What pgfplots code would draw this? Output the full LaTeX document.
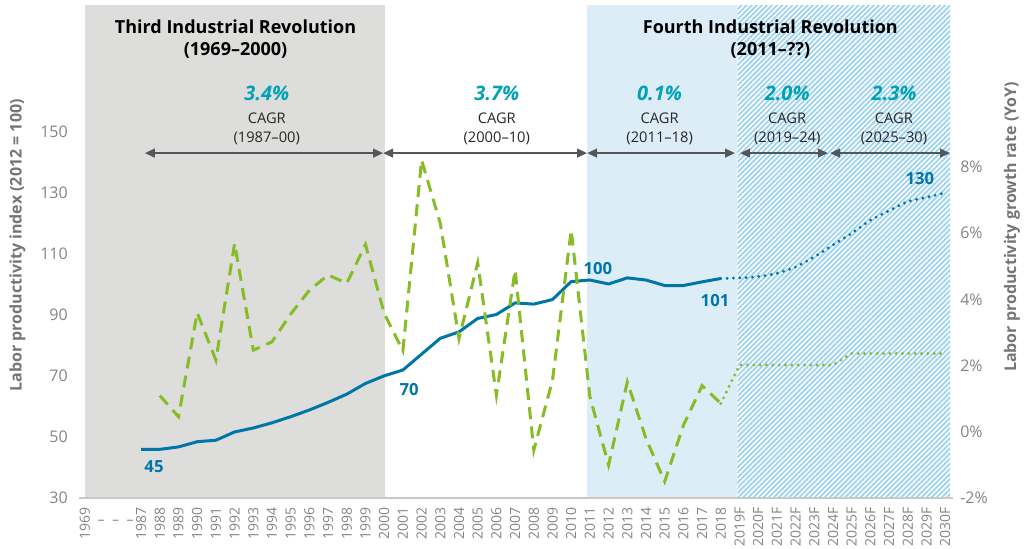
\documentclass[border=0pt]{standalone}
\usepackage{fontspec}
\setmainfont{Open Sans}
\usepackage{pgfplots}
\usepackage{pgfplotstable}
\pgfplotsset{compat=1.18}
\usetikzlibrary{patterns.meta,arrows.meta}

\definecolor{dblue}{RGB}{0,118,168}
\definecolor{dgreen}{RGB}{134,188,37}
\definecolor{cagr}{RGB}{0,163,182}
\definecolor{regiongray}{RGB}{221,221,219}
\definecolor{regionblue}{RGB}{221,237,248}
\definecolor{hatchblue}{RGB}{160,211,240}
\definecolor{arrowgray}{RGB}{83,86,90}
\definecolor{tickgray}{RGB}{132,132,132}
\definecolor{labelgray}{RGB}{117,117,117}
\definecolor{linegray}{RGB}{200,200,200}

% x index: 1969 -> 0, year Y (1987..2030) -> Y - 1984
\pgfplotstableread{
x y
3 46.0
4 46.0
5 46.8
6 48.5
7 49.0
8 51.7
9 53.0
10 54.7
11 56.7
12 58.9
13 61.4
14 64.1
15 67.6
16 70.1
17 72.0
18 77.2
19 82.4
20 84.5
21 88.9
22 90.2
23 94.0
24 93.6
25 95.1
26 101.0
27 101.5
28 100.2
29 102.2
30 101.5
31 99.7
32 99.7
33 100.9
34 102.0
}\idxhist

\pgfplotstableread{
x y
34 102.0
35 102.2
36 102.6
37 103.7
38 105.8
39 109.1
40 113.0
41 116.8
42 121.1
43 124.2
44 127.2
45 128.6
46 130.1
}\idxfc

\pgfplotstableread{
x y
4 1.1
5 0.46
6 3.6
7 2.17
8 5.69
9 2.47
10 2.72
11 3.56
12 4.28
13 4.74
14 4.49
15 5.66
16 3.58
17 2.45
18 8.21
19 6.3
20 2.82
21 5.11
22 1.11
23 4.89
24 -0.55
25 1.56
26 6.1
27 1.06
28 -1.0
29 1.51
30 -0.2
31 -1.5
32 0.2
33 1.4
34 0.86
}\grhist

\pgfplotstableread{
x y
34 0.86
35 2.02
36 2.02
37 2.02
38 2.02
39 2.02
40 2.02
41 2.37
42 2.37
43 2.37
44 2.37
45 2.37
46 2.37
}\grfc

\begin{document}
\begin{tikzpicture}
\begin{axis}[
  name=main,
  scale only axis, width=655.5pt, height=369.75pt,
  xmin=-0.321, xmax=46.42, ymin=30, ymax=191.6,
  axis on top, clip=false,
  axis x line*=bottom, axis y line*=left,
  x axis line style={draw=linegray, line width=1.1pt},
  y axis line style={draw=none},
  major tick length=0pt,
  xtick={0,3,4,...,46},
  xticklabels={1969,1987,1988,1989,1990,1991,1992,1993,1994,1995,1996,1997,1998,1999,2000,2001,2002,2003,2004,2005,2006,2007,2008,2009,2010,2011,2012,2013,2014,2015,2016,2017,2018,2019F,2020F,2021F,2022F,2023F,2024F,2025F,2026F,2027F,2028F,2029F,2030F},
  xticklabel style={rotate=90, anchor=east, font=\fontsize{10.5}{12}\selectfont, text=tickgray, inner xsep=6.75pt, inner ysep=0pt},
  ytick={30,50,70,90,110,130,150},
  yticklabels={30,50,70,90,110,130,150},
  yticklabel style={anchor=east, font=\fontsize{12}{14}\selectfont, text=tickgray, inner xsep=8.25pt, inner ysep=0pt},
]
% regions
\fill[regiongray] (axis cs:0,30) rectangle (axis cs:16.05,191.6);
\fill[regionblue] (axis cs:26.84,30) rectangle (axis cs:34.87,191.6);
\fill[pattern={Lines[angle=45,distance=2.7pt,line width=1.4pt]}, pattern color=hatchblue] (axis cs:34.87,30) rectangle (axis cs:46.26,191.6);
\draw[white, line width=0.8pt, dash pattern=on 1pt off 1pt] (axis cs:34.87,30) -- (axis cs:34.87,191.6);

% arrows
\begin{scope}[arrowgray, line width=1.5pt, {Triangle[length=7.5pt,width=6.5pt]}-{Triangle[length=7.5pt,width=6.5pt]}]
\draw (axis cs:3.2,143.1) -- (axis cs:15.94,143.1);
\draw (axis cs:15.94,143.1) -- (axis cs:26.85,143.1);
\draw (axis cs:26.85,143.1) -- (axis cs:34.76,143.1);
\draw (axis cs:35.03,143.1) -- (axis cs:39.73,143.1);
\draw (axis cs:39.84,143.1) -- (axis cs:46.26,143.1);
\end{scope}

\addplot[dblue, line width=2.25pt, line join=round] table {\idxhist};
\addplot[dblue, line width=2.4pt, line cap=round, dash pattern=on 0pt off 4.75pt, smooth] table {\idxfc};

% headers
\begin{scope}[font=\fontsize{13.5}{16}\selectfont\bfseries, text=black]
\node at (axis cs:8.05,184.5) {Third Industrial Revolution};
\node at (axis cs:8.05,176.7) {(1969–2000)};
\node at (axis cs:36.65,184.4) {Fourth Industrial Revolution};
\node at (axis cs:36.65,176.8) {(2011–??)};
\end{scope}

% CAGR
\begin{scope}[font=\fontsize{15}{17}\selectfont\bfseries\itshape, text=cagr]
\node at (axis cs:9.72,162.6) {3.4\%};
\node at (axis cs:22.02,162.6) {3.7\%};
\node at (axis cs:30.73,162.6) {0.1\%};
\node at (axis cs:37.55,162.6) {2.0\%};
\node at (axis cs:43.26,162.6) {2.3\%};
\end{scope}
\begin{scope}[font=\fontsize{11}{13}\selectfont, text=black!85]
\node at (axis cs:9.72,154.4) {CAGR};
\node at (axis cs:9.72,148.0) {(1987–00)};
\node at (axis cs:22.02,154.4) {CAGR};
\node at (axis cs:22.02,148.0) {(2000–10)};
\node at (axis cs:30.73,154.4) {CAGR};
\node at (axis cs:30.73,148.0) {(2011–18)};
\node at (axis cs:37.55,154.4) {CAGR};
\node at (axis cs:37.55,148.0) {(2019–24)};
\node at (axis cs:43.26,154.4) {CAGR};
\node at (axis cs:43.26,148.0) {(2025–30)};
\end{scope}

% value labels
\begin{scope}[font=\fontsize{12.5}{14}\selectfont\bfseries, text=dblue]
\node at (axis cs:3.69,40.5) {45};
\node at (axis cs:17.33,65.7) {70};
\node at (axis cs:27.43,105.3) {100};
\node at (axis cs:33.69,94.9) {101};
\node at (axis cs:44.65,134.9) {130};
\end{scope}

% dashes between 1969 and 1987
\begin{scope}[font=\fontsize{10.5}{12}\selectfont, text=tickgray]
\node at (axis cs:0.86,22.13) {–};
\node at (axis cs:1.64,22.13) {–};
\node at (axis cs:2.41,22.13) {–};
\end{scope}

% axis labels
\node[rotate=90, anchor=west, inner sep=0pt, font=\fontsize{12}{14}\selectfont\bfseries, text=labelgray] at (axis cs:-3.61,64.85) {Labor productivity index (2012 = 100)};
\node[rotate=90, anchor=west, inner sep=0pt, font=\fontsize{12}{14}\selectfont\bfseries, text=labelgray] at (axis cs:49.57,71.3) {Labor productivity growth rate (YoY)};

\coordinate (BL) at (axis cs:-4.545,13.607);
\coordinate (TR) at (axis cs:50.214,193.28);
\end{axis}

\begin{axis}[
  scale only axis, width=655.5pt, height=369.75pt,
  xmin=-0.321, xmax=46.42, ymin=-2, ymax=12.89,
  clip=false,
  axis x line=none, axis y line*=right,
  y axis line style={draw=none},
  xtick=\empty,
  major tick length=0pt,
  ytick={-2,0,2,4,6,8},
  yticklabels={-2\%,0\%,2\%,4\%,6\%,8\%},
  yticklabel style={anchor=west, font=\fontsize{12}{14}\selectfont, text=tickgray, inner xsep=5.25pt, inner ysep=0pt},
]
\addplot[dgreen, line width=2.25pt, dash pattern=on 9pt off 5.5pt] table {\grhist};
\addplot[dgreen, line width=2.4pt, line cap=round, dash pattern=on 0pt off 4.75pt] table {\grfc};
\end{axis}
\pgfresetboundingbox
\path[use as bounding box] (BL) rectangle (TR);
\end{tikzpicture}
\end{document}
